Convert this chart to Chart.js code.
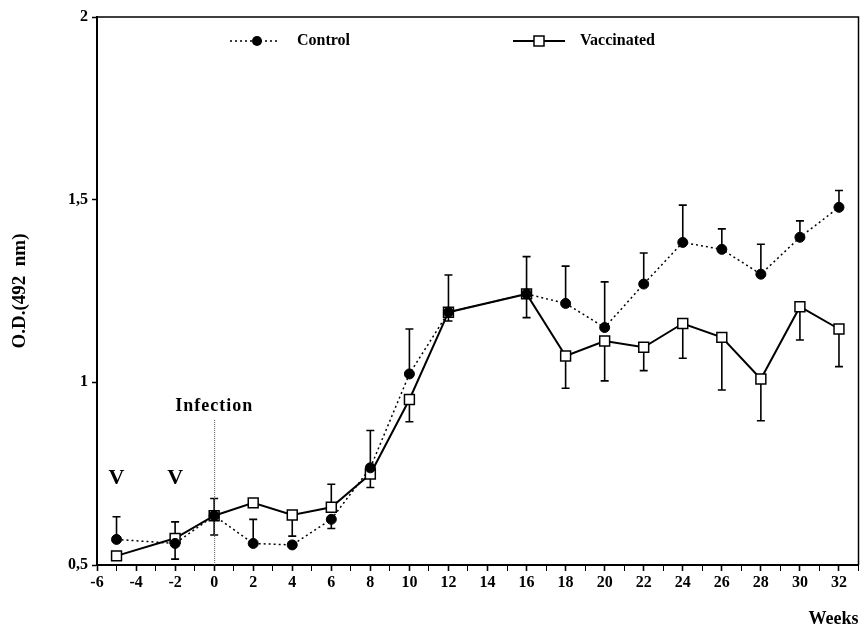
<!DOCTYPE html>
<html>
<head>
<meta charset="utf-8">
<script src="https://cdn.jsdelivr.net/npm/chart.js@4.4.1/dist/chart.umd.min.js"></script>
<style>
  html, body { margin: 0; padding: 0; background: #fff; }
  #wrap { width: 867px; height: 628px; }
</style>
</head>
<body>
<div id="wrap"><canvas id="chart" width="867" height="628"></canvas></div>
<script>
// weeks relative to infection
const weeks = [-5, -2, 0, 2, 4, 6, 8, 10, 12, 16, 18, 20, 22, 24, 26, 28, 30, 32];

// mean O.D. values
const control = [0.570, 0.559, 0.635, 0.559, 0.555, 0.625, 0.766, 1.023, 1.192, 1.242, 1.216, 1.150, 1.269, 1.383, 1.364, 1.296, 1.397, 1.479];
const vaccinated = [0.525, 0.573, 0.635, 0.670, 0.637, 0.658, 0.749, 0.953, 1.192, 1.242, 1.072, 1.113, 1.096, 1.161, 1.123, 1.009, 1.207, 1.146];

// tip of each error bar (null = not drawn)
const controlErr = [0.632, 0.516, 0.682, 0.625, null, 0.600, 0.868, 1.146, 1.294, 1.344, 1.318, 1.275, 1.354, 1.485, 1.420, 1.378, 1.442, 1.525];
const vaccinatedErr = [null, 0.618, 0.582, null, 0.579, 0.721, 0.712, 0.892, 1.168, 1.177, 0.984, 1.004, 1.032, 1.066, 0.979, 0.895, 1.116, 1.043];

const yTicks = [0.5, 1, 1.5, 2];
const yTickLabels = ['0,5', '1', '1,5', '2'];
const vaccinationWeeks = [-5, -2];
const infectionWeek = 0;

const serif = '"Liberation Serif", "Times New Roman", serif';

const errorBars = {
  id: 'errorBars',
  beforeDatasetsDraw(chart) {
    const {ctx, scales: {x, y}} = chart;
    ctx.save();
    ctx.strokeStyle = '#000';
    ctx.lineWidth = 1.6;
    [[control, controlErr], [vaccinated, vaccinatedErr]].forEach(([values, errs]) => {
      errs.forEach((tip, i) => {
        if (tip == null) return;
        const px = x.getPixelForValue(weeks[i]);
        const py0 = y.getPixelForValue(values[i]);
        const py1 = y.getPixelForValue(tip);
        ctx.beginPath();
        ctx.moveTo(px, py0);
        ctx.lineTo(px, py1);
        ctx.moveTo(px - 4, py1);
        ctx.lineTo(px + 4, py1);
        ctx.stroke();
      });
    });

    // infection marker
    const ix = x.getPixelForValue(infectionWeek);
    ctx.lineWidth = 1;
    ctx.strokeStyle = '#555';
    ctx.setLineDash([1, 1]);
    ctx.beginPath();
    ctx.moveTo(ix + 0.5, y.getPixelForValue(0.897));
    ctx.lineTo(ix + 0.5, y.getPixelForValue(0.5));
    ctx.stroke();
    ctx.restore();
  },
  afterDraw(chart) {
    const {ctx, chartArea: a, scales: {x, y}} = chart;
    ctx.save();
    // box frame
    ctx.strokeStyle = '#000';
    ctx.lineWidth = 1.5;
    ctx.beginPath();
    ctx.moveTo(a.left, a.top);
    ctx.lineTo(a.right, a.top);
    ctx.lineTo(a.right, a.bottom);
    ctx.stroke();

    ctx.fillStyle = '#000';
    ctx.letterSpacing = '1px';
    ctx.textAlign = 'center';
    ctx.textBaseline = 'middle';
    ctx.font = 'bold 18px ' + serif;
    ctx.fillText('Infection', x.getPixelForValue(infectionWeek), 406);

    ctx.letterSpacing = '0px';
    ctx.font = 'bold 22px ' + serif;
    vaccinationWeeks.forEach(w => {
      ctx.fillText('V', x.getPixelForValue(w), y.getPixelForValue(0.738));
    });

    // legend
    const ly = 41;
    ctx.lineWidth = 1.5;
    ctx.setLineDash([2, 3]);
    ctx.beginPath();
    ctx.moveTo(230, ly);
    ctx.lineTo(277, ly);
    ctx.stroke();
    ctx.setLineDash([]);
    ctx.beginPath();
    ctx.arc(257, ly, 5, 0, Math.PI * 2);
    ctx.fill();

    ctx.lineWidth = 2;
    ctx.beginPath();
    ctx.moveTo(513, ly);
    ctx.lineTo(565, ly);
    ctx.stroke();
    ctx.fillStyle = '#fff';
    ctx.fillRect(534, ly - 5, 10, 10);
    ctx.lineWidth = 1.5;
    ctx.strokeRect(534, ly - 5, 10, 10);

    ctx.fillStyle = '#000';
    ctx.textAlign = 'left';
    ctx.font = 'bold 16px ' + serif;
    ctx.fillText('Control', 297, ly);
    ctx.fillText('Vaccinated', 580, ly);
    ctx.restore();
  }
};

new Chart(document.getElementById('chart'), {
  type: 'line',
  data: {
    labels: weeks,
    datasets: [
      {
        label: 'Control',
        data: weeks.map((w, i) => ({x: w, y: control[i]})),
        borderColor: '#000',
        borderWidth: 1.5,
        borderDash: [2, 3],
        pointStyle: 'circle',
        pointRadius: 5,
        pointBackgroundColor: '#000',
        pointBorderColor: '#000',
        pointBorderWidth: 1,
        tension: 0,
        order: 0
      },
      {
        label: 'Vaccinated',
        data: weeks.map((w, i) => ({x: w, y: vaccinated[i]})),
        borderColor: '#000',
        borderWidth: 2,
        pointStyle: 'rect',
        pointRadius: 7,
        pointBackgroundColor: '#fff',
        pointBorderColor: '#000',
        pointBorderWidth: 1.5,
        tension: 0,
        order: 1
      }
    ]
  },
  options: {
    responsive: false,
    animation: false,
    layout: {padding: {top: 17, right: 7, left: 0, bottom: 0}},
    plugins: {legend: {display: false}, tooltip: {enabled: false}},
    scales: {
      x: {
        type: 'linear',
        min: -6,
        max: 33,
        afterFit: s => { s.height = 63; },
        border: {color: '#000', width: 2},
        grid: {
          drawOnChartArea: false,
          color: '#000',
          tickLength: 6,
          tickWidth: c => (c.tick && c.tick.value % 2 === 0 ? 1.6 : 1)
        },
        ticks: {
          stepSize: 1,
          autoSkip: false,
          maxRotation: 0,
          padding: 2,
          color: '#000',
          font: {family: serif, size: 16, weight: 'bold'},
          callback: v => (v % 2 === 0 && v <= 32 ? String(v) : '')
        },
        title: {
          display: true,
          text: 'Weeks',
          align: 'end',
          color: '#000',
          padding: {top: 0, bottom: -2},
          font: {family: serif, size: 18, weight: 'bold'}
        }
      },
      y: {
        min: 0.5,
        max: 2,
        afterFit: s => { s.width = 97; },
        afterBuildTicks: s => { s.ticks = yTicks.map(v => ({value: v})); },
        border: {color: '#000', width: 2},
        grid: {drawOnChartArea: false, color: '#000', tickLength: 5, tickWidth: 1.5},
        ticks: {
          padding: 4,
          color: '#000',
          font: {family: serif, size: 16, weight: 'bold'},
          callback: v => yTickLabels[yTicks.indexOf(v)]
        },
        title: {
          display: true,
          text: 'O.D.(492  nm)',
          color: '#000',
          padding: {top: 9, bottom: 0},
          font: {family: serif, size: 19, weight: 'bold'}
        }
      }
    }
  },
  plugins: [errorBars]
});
</script>
</body>
</html>
